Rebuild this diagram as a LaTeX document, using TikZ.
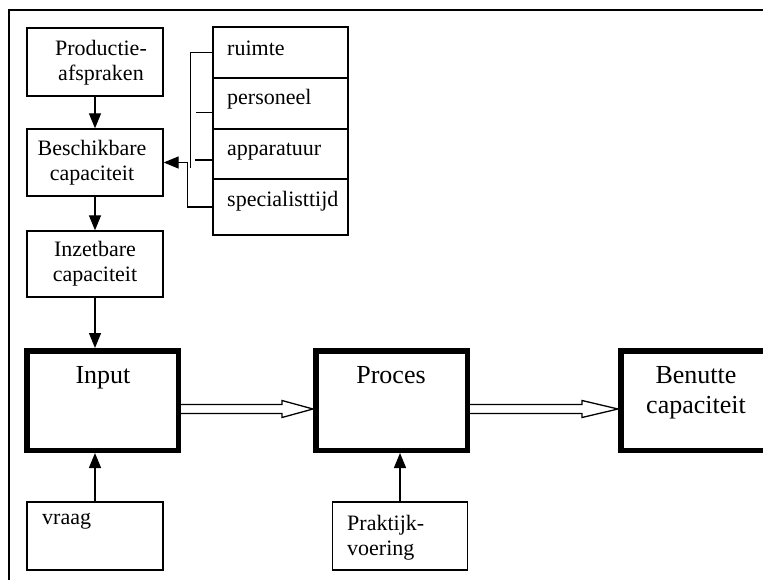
\documentclass[tikz,border=0pt]{standalone}
\usepackage{fontspec}
\setmainfont{Liberation Serif}
\usetikzlibrary{arrows.meta,calc}
\begin{document}
\begin{tikzpicture}[x=1pt,y=-1pt,
  thin box/.style={draw, line width=1.3pt, minimum width=136pt, inner sep=0pt},
  row box/.style={draw, line width=1.3pt, minimum width=135pt, inner sep=0pt},
  thick box/.style={draw, line width=5.5pt, minimum width=151.5pt,
    minimum height=99.5pt, inner sep=0pt},
  big text/.style={font=\fontsize{26}{30}\selectfont, inner sep=0pt},
  small text/.style={font=\fontsize{22}{25}\selectfont, inner sep=0pt},
  pair text/.style={small text, align=center},
  link/.style={line width=1.3pt},
  feed/.style={line width=1.3pt, -{Triangle[length=15pt,width=12pt]}},
  flow/.style={line width=1.3pt, line join=miter}
]
\useasboundingbox (0,0) rectangle (763,580);
\clip (0,0) rectangle (763,580);

% outer frame
\draw[line width=1.7pt] (9,640) -- (9,10) -- (820,10);

% left column
\node[thin box, minimum height=68pt] (prod) at (95,62) {};
\node[thin box, minimum height=67pt] (besch) at (95,162.5) {};
\node[thin box, minimum height=66pt] (inz) at (95,264) {};
\node[pair text] (prodlbl) at (101,63) {Productie-\\afspraken};
\node[pair text] (beschlbl) at (92,163) {Beschikbare\\capaciteit};
\node[pair text] (inzlbl) at (95,264) {Inzetbare\\capaciteit};

% resource stack
\node[row box, minimum height=51pt] (r1) at (280.5,52.5) {};
\node[row box, minimum height=51pt] (r2) at (280.5,103.5) {};
\node[row box, minimum height=50pt] (r3) at (280.5,154) {};
\node[row box, minimum height=56pt] (r4) at (280.5,207) {};
\node[small text, anchor=base west] (t1) at (227,56) {ruimte};
\node[small text, anchor=base west] (t2) at (227,105) {personeel};
\node[small text, anchor=base west] (t3) at (227,156) {apparatuur};
\node[small text, anchor=base west] (t4) at (227,207) {specialisttijd};

% main process boxes
\node[thick box] (inp) at (102.5,400.5) {};
\node[thick box] (proc) at (391.5,400.5) {};
\node[thick box] (ben) at (696.5,400.5) {};
\node[big text, anchor=base] (inplbl) at (103,383) {Input};
\node[big text, anchor=base] (proclbl) at (391,383) {Proces};
\node[big text, anchor=base] (ben1) at (696,383) {Benutte};
\node[big text, anchor=base] (ben2) at (696,413) {capaciteit};

% bottom inputs
\node[thin box, minimum height=68pt] (vraag) at (95,536) {};
\node[small text, anchor=base west] (vraaglbl) at (42,524) {vraag};
\node[thin box, minimum width=135.5pt, minimum height=68pt] (prak) at (400,536) {};
\node[small text, anchor=base west] (prak1) at (347,530) {Praktijk-};
\node[small text, anchor=base west] (prak2) at (347,555) {voering};

% vertical feeds
\draw[feed] (prod) -- (besch);
\draw[feed] (besch) -- (inz);
\draw[feed] (inz.south) -- (inz.south |- inp.north);
\draw[feed] (vraag.north) -- (vraag.north |- inp.south);
\draw[feed] (prak.north) -- (prak.north |- proc.south);

% bracket from the resource stack
\draw[link] (r1.west) -- ++(-22,0) -- ++(0,115.5);
\draw[link] ($(r2.west)+(0,9)$) -- ++(-16,0);
\draw[link] ($(r3.west)+(0,6)$) -- ++(-17,0);
\draw[feed] (r4.west) -- ++(-25,0) |- (besch.east);

% hollow flow arrows
\coordinate (s1) at ($(inp.east)+(0,8.5)$);
\coordinate (e1) at (proc.west |- s1);
\draw[flow] ($(s1)+(0,-4.5)$) -- ($(e1)+(-31,-4.5)$) -- ($(e1)+(-31,-8.5)$)
  -- (e1) -- ($(e1)+(-31,8.5)$) -- ($(e1)+(-31,4.5)$) -- ($(s1)+(0,4.5)$);
\coordinate (s2) at ($(proc.east)+(0,8.5)$);
\coordinate (e2) at (ben.west |- s2);
\draw[flow] ($(s2)+(0,-4.5)$) -- ($(e2)+(-36,-4.5)$) -- ($(e2)+(-36,-8.5)$)
  -- (e2) -- ($(e2)+(-36,8.5)$) -- ($(e2)+(-36,4.5)$) -- ($(s2)+(0,4.5)$);
\end{tikzpicture}
\end{document}
